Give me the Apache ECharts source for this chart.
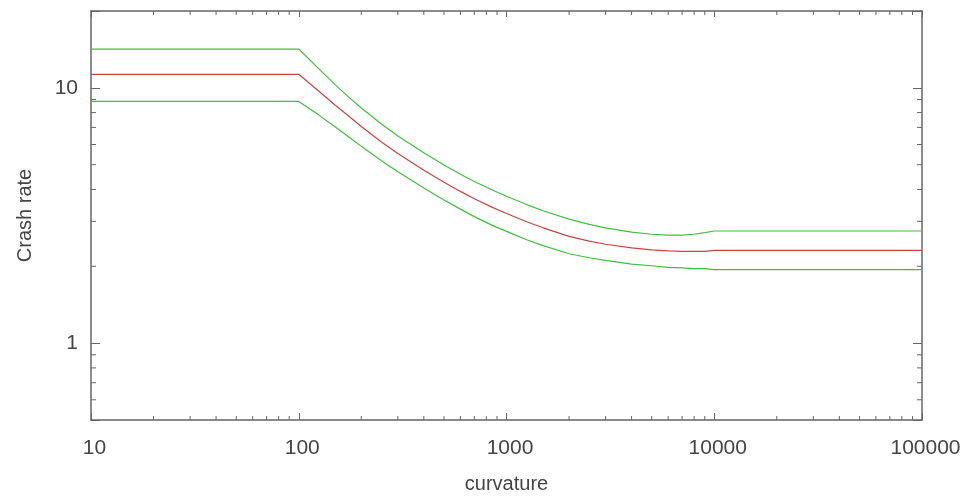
<!DOCTYPE html>
<html>
<head>
<meta charset="utf-8">
<script src="https://cdn.jsdelivr.net/npm/echarts@6/dist/echarts.min.js"></script>
<style>
  html, body { margin: 0; padding: 0; background: #fff; }
  #main { width: 967px; height: 499px; }
</style>
</head>
<body>
<div id="main"></div>
<script>
// curvature values (x)
var curvature = [10, 100, 125, 150, 175, 200, 250, 300, 400, 500, 600, 700, 850, 1000, 1250, 1500, 2000, 2500, 3000, 4000, 5000, 6000, 7000, 8000, 9000, 10000, 100000];
// crash rate, upper bound (green)
var upperRate = [14.19, 14.19, 11.87, 10.27, 9.16, 8.34, 7.22, 6.48, 5.57, 4.99, 4.59, 4.30, 3.99, 3.76, 3.49, 3.30, 3.06, 2.92, 2.83, 2.72, 2.67, 2.65, 2.65, 2.67, 2.71, 2.75, 2.75];
// crash rate, estimate (red)
var midRate = [11.30, 11.30, 9.70, 8.55, 7.72, 7.06, 6.14, 5.53, 4.76, 4.27, 3.93, 3.68, 3.41, 3.22, 2.99, 2.83, 2.62, 2.51, 2.44, 2.36, 2.32, 2.30, 2.29, 2.29, 2.29, 2.31, 2.31];
// crash rate, lower bound (green)
var lowerRate = [8.85, 8.85, 7.82, 7.03, 6.41, 5.90, 5.18, 4.69, 4.05, 3.64, 3.35, 3.13, 2.90, 2.74, 2.54, 2.41, 2.24, 2.16, 2.11, 2.04, 2.01, 1.98, 1.97, 1.96, 1.96, 1.94, 1.94];

var xMin = 10, xMax = 100000;
var yMin = 0.5, yMax = 20;
var axisColor = '#666666';
var textColor = '#454545';
var fontName = 'Liberation Sans';

function pairs(xs, ys) {
  var out = [];
  for (var i = 0; i < xs.length; i++) {
    out.push([xs[i], ys[i]]);
  }
  return out;
}

// minor ticks at 2..9 of each decade
var xMinor = [];
for (var d = xMin; d < xMax; d *= 10) {
  for (var k = 2; k <= 9; k++) xMinor.push(d * k);
}
var yMinor = [];
for (var d2 = 0.1; d2 < yMax; d2 *= 10) {
  for (var k2 = 2; k2 <= 9; k2++) {
    var v = Math.round(d2 * k2 * 1000) / 1000;
    if (v > yMin && v < yMax && v !== 1 && v !== 10) yMinor.push(v);
  }
}

// only label the decades
function powLabel(val) {
  var l = Math.log(val) / Math.LN10;
  if (Math.abs(l - Math.round(l)) < 1e-6) return String(Math.round(val));
  return '';
}

var myChart = echarts.init(document.getElementById('main'));
var option = {
  animation: false,
  grid: { left: 91, right: 45, top: 11, bottom: 78 },
  xAxis: [
    {
      type: 'log', logBase: 10, min: xMin, max: xMax,
      name: 'curvature', nameLocation: 'middle', nameGap: 54,
      nameTextStyle: { color: textColor, fontSize: 20, fontFamily: fontName },
      axisLine: { show: true, lineStyle: { color: axisColor, width: 1.5 } },
      axisTick: { show: true, inside: true, length: 7, lineStyle: { color: axisColor } },
      axisLabel: { color: textColor, fontSize: 21, fontFamily: fontName, margin: 18, padding: [0, 0, 0, 7], formatter: powLabel },
      splitLine: { show: false }
    },
    {
      type: 'log', logBase: 10, min: xMin, max: xMax, position: 'top',
      axisLine: { show: true, lineStyle: { color: axisColor, width: 1.5 } },
      axisTick: { show: true, inside: true, length: 6, lineStyle: { color: axisColor } },
      axisLabel: { show: false },
      splitLine: { show: false }
    }
  ],
  yAxis: [
    {
      type: 'log', logBase: 10, min: yMin, max: yMax,
      name: 'Crash rate', nameLocation: 'middle', nameGap: 56,
      nameTextStyle: { color: textColor, fontSize: 20, fontFamily: fontName },
      axisLine: { show: true, lineStyle: { color: axisColor, width: 1.5 } },
      axisTick: { show: true, inside: true, length: 9, lineStyle: { color: axisColor } },
      axisLabel: { color: textColor, fontSize: 21, fontFamily: fontName, margin: 13, formatter: powLabel },
      splitLine: { show: false }
    },
    {
      type: 'log', logBase: 10, min: yMin, max: yMax, position: 'right',
      axisLine: { show: true, lineStyle: { color: axisColor, width: 1.5 } },
      axisTick: { show: true, inside: true, length: 9, lineStyle: { color: axisColor } },
      axisLabel: { show: false },
      splitLine: { show: false }
    }
  ],
  series: [
    {
      name: 'upper', type: 'line', data: pairs(curvature, upperRate),
      symbol: 'none', lineStyle: { color: '#3fbf3f', width: 1.2 }
    },
    {
      name: 'estimate', type: 'line', data: pairs(curvature, midRate),
      symbol: 'none', lineStyle: { color: '#c84444', width: 1.2 }
    },
    {
      name: 'lower', type: 'line', data: pairs(curvature, lowerRate),
      symbol: 'none', lineStyle: { color: '#3fbf3f', width: 1.2 }
    },
    {
      // minor ticks on bottom and top x axes
      type: 'custom', silent: true,
      data: xMinor,
      renderItem: function (params, api) {
        var val = api.value(0);
        var b = api.coord([val, yMin]);
        var t = api.coord([val, yMax]);
        var st = { stroke: axisColor, lineWidth: 1 };
        return {
          type: 'group',
          children: [
            { type: 'line', shape: { x1: b[0], y1: b[1], x2: b[0], y2: b[1] - 4 }, style: st },
            { type: 'line', shape: { x1: t[0], y1: t[1], x2: t[0], y2: t[1] + 4 }, style: st }
          ]
        };
      }
    },
    {
      // minor ticks on left and right y axes
      type: 'custom', silent: true,
      data: yMinor.map(function (v) { return [xMin, v]; }),
      renderItem: function (params, api) {
        var val = api.value(1);
        var l = api.coord([xMin, val]);
        var r = api.coord([xMax, val]);
        var st = { stroke: axisColor, lineWidth: 1 };
        return {
          type: 'group',
          children: [
            { type: 'line', shape: { x1: l[0], y1: l[1], x2: l[0] + 5, y2: l[1] }, style: st },
            { type: 'line', shape: { x1: r[0], y1: r[1], x2: r[0] - 5, y2: r[1] }, style: st }
          ]
        };
      }
    }
  ]
};
option && myChart.setOption(option);
</script>
</body>
</html>
